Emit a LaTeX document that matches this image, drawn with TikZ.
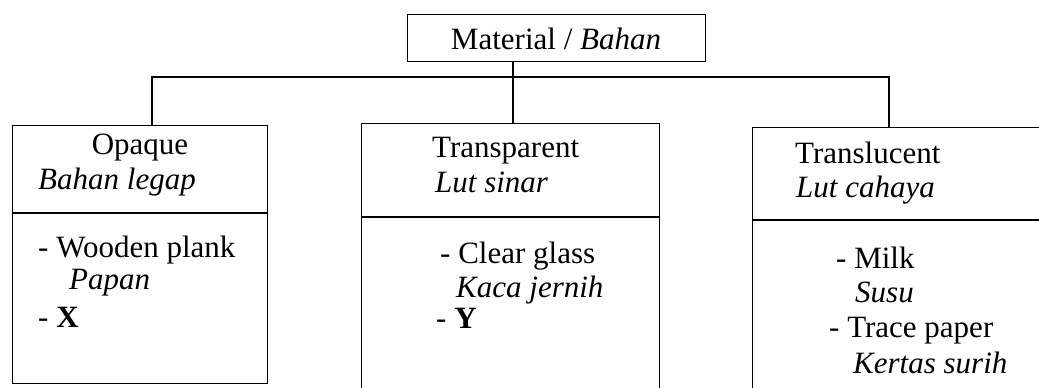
\documentclass[tikz,border=0pt]{standalone}
\usepackage{fontspec}
\setmainfont{Liberation Serif}
\begin{document}
\begin{tikzpicture}[x=1pt,y=-1pt,
  boxst/.style={draw, line width=1.3pt, inner sep=0pt, anchor=north west},
  divider/.style={line width=2.4pt},
  conn/.style={line width=1.3pt},
  txt/.style={font=\fontsize{31}{35}\selectfont, inner sep=0pt, anchor=base west},
  ctxt/.style={font=\fontsize{31}{35}\selectfont, inner sep=0pt, anchor=base}]
\useasboundingbox (0,0) rectangle (1039,388);
\clip (0,0) rectangle (1039,388);
% boxes
\node[boxst, minimum width=298, minimum height=47] (mat) at (407,14) {};
\node[boxst, minimum width=255, minimum height=258] (opq) at (12,125) {};
\node[boxst, minimum width=298, minimum height=280] (tsp) at (361,123) {};
\node[boxst, minimum width=310, minimum height=280] (trl) at (752,127) {};
% dividers
\draw[divider] (opq.west |- 0,213) -- (opq.east |- 0,213);
\draw[divider] (tsp.west |- 0,217) -- (tsp.east |- 0,217);
\draw[divider] (trl.west |- 0,220) -- (trl.east |- 0,220);
% connectors
\coordinate (lj) at (152,77);
\coordinate (rj) at (889,77);
\coordinate (mj) at (513,77);
\draw[conn] (lj |- opq.north) -- (lj) -- (rj) -- (rj |- trl.north);
\draw[conn] (mj |- mat.south) -- (mj |- tsp.north);
% texts
\node[ctxt] (tmat) at (556,49) {Material / \textit{Bahan}};
\node[ctxt] (t1a) at (140,154) {Opaque};
\node[txt] (t1b) at (38,189) {\textit{Bahan legap}};
\node[txt] (t1c) at (38,257) {- Wooden plank};
\node[txt] (t1d) at (69,289) {\textit{Papan}};
\node[txt] (t1e) at (38,327) {- \textbf{X}};
\node[txt] (t2a) at (432,157) {Transparent};
\node[txt] (t2b) at (435,192) {\textit{Lut sinar}};
\node[txt] (t2c) at (440,263) {- Clear glass};
\node[txt] (t2d) at (456,297) {\textit{Kaca jernih}};
\node[txt] (t2e) at (436,328) {- \textbf{Y}};
\node[txt] (t3a) at (795,163) {Translucent};
\node[txt] (t3b) at (796,197) {\textit{Lut cahaya}};
\node[txt] (t3c) at (836,268) {- Milk};
\node[txt] (t3d) at (855,302) {\textit{Susu}};
\node[txt] (t3e) at (829,337) {- Trace paper};
\node[txt] (t3f) at (853,373) {\textit{Kertas surih}};
\end{tikzpicture}
\end{document}
